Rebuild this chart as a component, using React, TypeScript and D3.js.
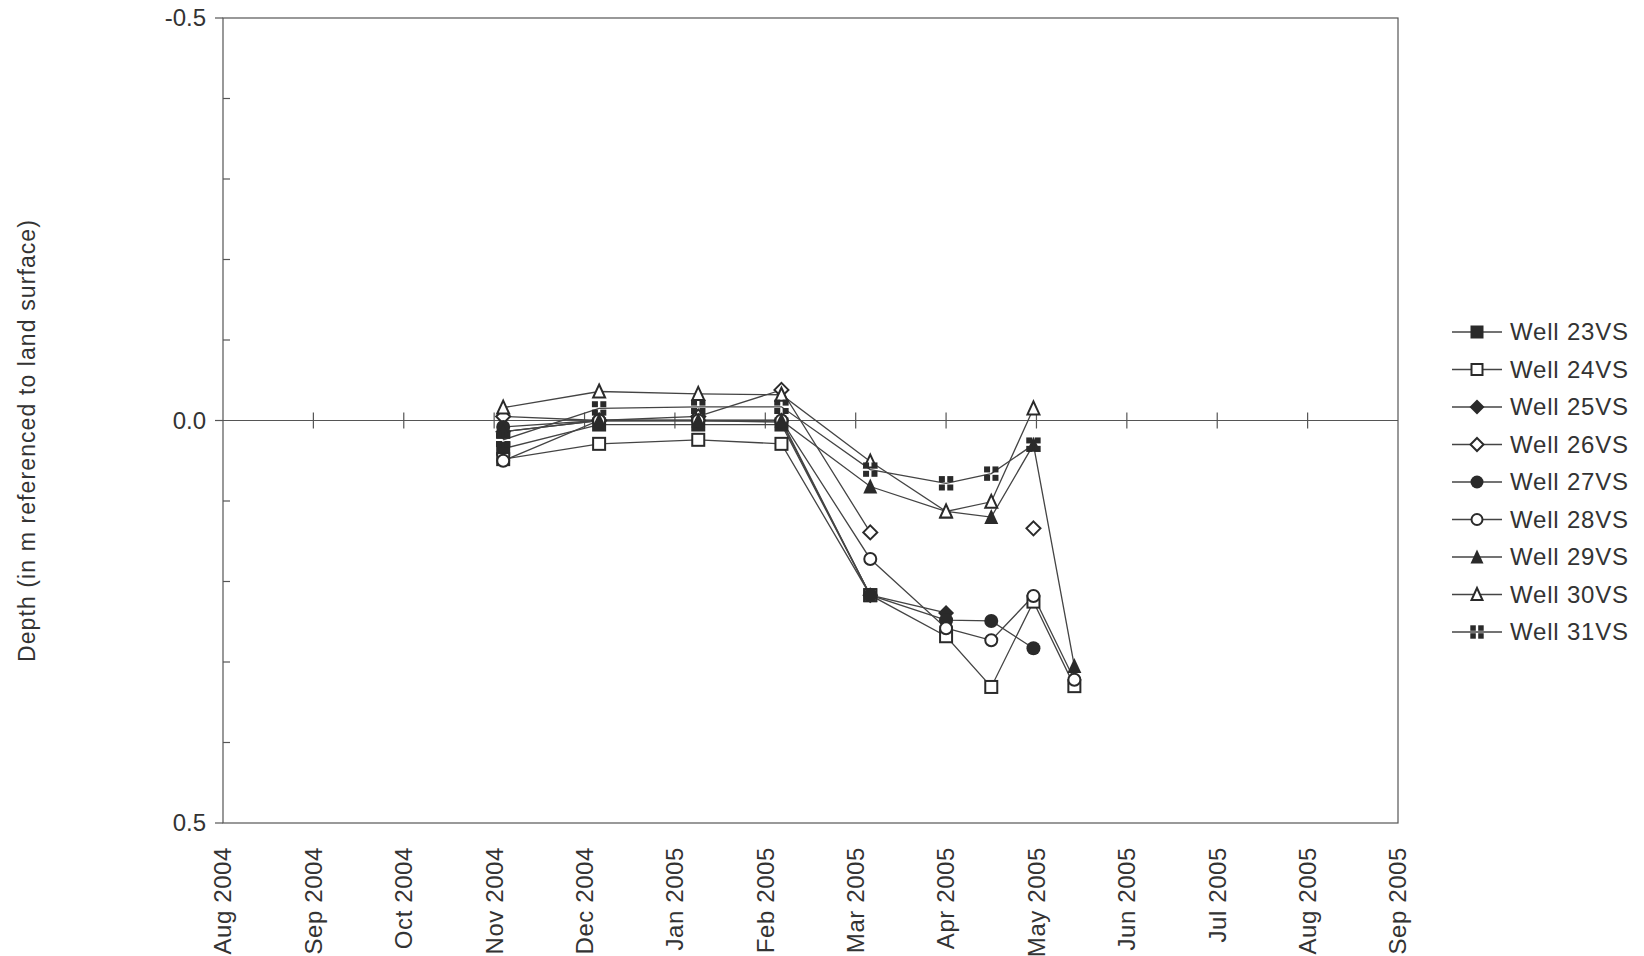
import React from "react";
import * as d3 from "d3";

// ---- Data ----
const monthLabels = [
  "Aug 2004", "Sep 2004", "Oct 2004", "Nov 2004", "Dec 2004", "Jan 2005", "Feb 2005",
  "Mar 2005", "Apr 2005", "May 2005", "Jun 2005", "Jul 2005", "Aug 2005", "Sep 2005",
];
const yTickLabels = [-0.5, 0.0, 0.5];
const yMinorTicks = [-0.4, -0.3, -0.2, -0.1, 0.1, 0.2, 0.3, 0.4];

const sampleDates = [
  "2004-11-04", "2004-12-06", "2005-01-09", "2005-02-06", "2005-03-06",
  "2005-04-01", "2005-04-16", "2005-04-30", "2005-05-14",
];

const well23 = [0.035, 0.005, 0.005, 0.005, 0.217, null, null, null, null];
const well24 = [0.048, 0.029, 0.024, 0.029, 0.217, 0.268, 0.331, 0.225, 0.33];
const well25 = [0.014, 0.0, 0.0, 0.0, 0.217, 0.239, null, null, null];
const well26 = [-0.005, 0.0, -0.005, -0.038, 0.139, null, null, 0.134, null];
const well27 = [0.008, 0.0, 0.0, 0.002, 0.217, 0.248, 0.249, 0.283, null];
const well28 = [0.05, 0.0, 0.0, 0.0, 0.172, 0.258, 0.273, 0.218, 0.322];
const well29 = [0.014, 0.0, 0.0, 0.0, 0.082, 0.113, 0.12, 0.03, 0.305];
const well30 = [-0.016, -0.036, -0.033, -0.032, 0.051, 0.113, 0.101, -0.015, null];
const well31 = [0.024, -0.015, -0.017, -0.017, 0.061, 0.078, 0.066, 0.03, null];

const seriesNames = [
  "Well 23VS", "Well 24VS", "Well 25VS", "Well 26VS", "Well 27VS",
  "Well 28VS", "Well 29VS", "Well 30VS", "Well 31VS",
];
const seriesValues = [well23, well24, well25, well26, well27, well28, well29, well30, well31];
const seriesMarkers = [
  "squareFilled", "squareOpen", "diamondFilled", "diamondOpen", "circleFilled",
  "circleOpen", "triangleFilled", "triangleOpen", "crossSquares",
];

// ---- Layout ----
const W = 1644;
const H = 956;
const L = 223, R = 1398, T = 18, B = 823;
const INK = "#2a2a2a";
const AXIS = "#555";
const LINE = "#444";
const FONT = "Liberation Sans, Arial, sans-serif";

function monthIndex(s: string): number {
  const [y, m, d] = s.split("-").map(Number);
  const dim = new Date(y, m, 0).getDate();
  return (y - 2004) * 12 + (m - 8) + (d - 1) / dim;
}

const x = d3.scaleLinear().domain([0, 13]).range([L, R]);
const y = d3.scaleLinear().domain([-0.5, 0.5]).range([T, B]);

function fmtY(v: number): string {
  return (v < 0 ? "-" : "") + Math.abs(v).toFixed(1);
}

function Marker({ kind, cx, cy, s }: { kind: string; cx: number; cy: number; s: number }) {
  const h = s / 2;
  const sw = 2;
  switch (kind) {
    case "squareFilled":
      return <rect x={cx - h} y={cy - h} width={s} height={s} fill={INK} />;
    case "squareOpen":
      return <rect x={cx - h + 1} y={cy - h + 1} width={s - 2} height={s - 2} fill="#fff" stroke={INK} strokeWidth={sw} />;
    case "diamondFilled":
      return <path d={`M${cx},${cy - h - 1}L${cx + h + 1},${cy}L${cx},${cy + h + 1}L${cx - h - 1},${cy}Z`} fill={INK} />;
    case "diamondOpen":
      return <path d={`M${cx},${cy - h}L${cx + h},${cy}L${cx},${cy + h}L${cx - h},${cy}Z`} fill="#fff" stroke={INK} strokeWidth={sw} />;
    case "circleFilled":
      return <circle cx={cx} cy={cy} r={h} fill={INK} />;
    case "circleOpen":
      return <circle cx={cx} cy={cy} r={h - 1} fill="#fff" stroke={INK} strokeWidth={sw} />;
    case "triangleFilled":
      return <path d={`M${cx},${cy - h - 1}L${cx + h},${cy + h}L${cx - h},${cy + h}Z`} fill={INK} />;
    case "triangleOpen":
      return <path d={`M${cx},${cy - h}L${cx + h - 1},${cy + h - 1}L${cx - h + 1},${cy + h - 1}Z`} fill="#fff" stroke={INK} strokeWidth={sw} />;
    case "crossSquares": {
      const q = h - 1;
      const g = 1.2;
      return (
        <g fill={INK}>
          <rect x={cx - q - g} y={cy - q - g} width={q} height={q} />
          <rect x={cx + g} y={cy - q - g} width={q} height={q} />
          <rect x={cx - q - g} y={cy + g} width={q} height={q} />
          <rect x={cx + g} y={cy + g} width={q} height={q} />
        </g>
      );
    }
    default:
      return null;
  }
}

export default function App() {
  const xs = sampleDates.map(monthIndex);
  const lineGen = d3
    .line<[number, number | null]>()
    .defined((d) => d[1] !== null)
    .x((d) => x(d[0]))
    .y((d) => y(d[1] as number));

  const legendX = 1452;
  const legendY0 = 332;
  const legendStep = 37.5;

  return (
    <svg
      width={W}
      height={H}
      style={{ position: "absolute", left: 0, top: 0, background: "#fff" }}
      fontFamily={FONT}
    >
      {/* plot frame */}
      <rect x={L} y={T} width={R - L} height={B - T} fill="none" stroke={AXIS} strokeWidth={1.2} />

      {/* y axis major ticks (outside) */}
      {yTickLabels.map((v) => (
        <g key={"yt" + v}>
          <line x1={L - 8} x2={L} y1={y(v)} y2={y(v)} stroke={AXIS} strokeWidth={1.2} />
          <text x={206} y={y(v)} dy="0.35em" textAnchor="end" fontSize={24} fill="#333">
            {fmtY(v)}
          </text>
        </g>
      ))}
      {/* y axis minor ticks (inside) */}
      {yMinorTicks.map((v) => (
        <line key={"ym" + v} x1={L} x2={L + 7} y1={y(v)} y2={y(v)} stroke={AXIS} strokeWidth={1.2} />
      ))}

      {/* x axis along zero */}
      <line x1={L} x2={R} y1={y(0)} y2={y(0)} stroke={AXIS} strokeWidth={1.2} />
      {monthLabels.map((m, i) =>
        i > 0 && i < monthLabels.length - 1 ? (
          <line key={"xt" + i} x1={x(i)} x2={x(i)} y1={y(0) - 8} y2={y(0) + 8} stroke={AXIS} strokeWidth={1.2} />
        ) : null
      )}
      {monthLabels.map((m, i) => (
        <text
          key={"xl" + i}
          transform={`translate(${x(i)},847) rotate(-90)`}
          dy="0.35em"
          textAnchor="end"
          fontSize={24}
          letterSpacing={0.6}
          fill="#333"
        >
          {m}
        </text>
      ))}

      {/* y title */}
      <text
        transform={`translate(27,${(T + B) / 2 + 20}) rotate(-90)`}
        dy="0.35em"
        textAnchor="middle"
        fontSize={23}
        letterSpacing={1.1}
        fill="#333"
      >
        Depth (in m referenced to land surface)
      </text>

      {/* series lines */}
      {seriesValues.map((vals, si) => (
        <path
          key={"l" + si}
          d={lineGen(xs.map((xv, i) => [xv, vals[i]]) as [number, number | null][]) || ""}
          fill="none"
          stroke={LINE}
          strokeWidth={1.3}
        />
      ))}

      {/* series markers */}
      {seriesValues.map((vals, si) => (
        <g key={"m" + si}>
          {vals.map((v, i) =>
            v === null ? null : (
              <Marker key={i} kind={seriesMarkers[si]} cx={x(xs[i])} cy={y(v)} s={14} />
            )
          )}
        </g>
      ))}

      {/* legend */}
      {seriesNames.map((name, i) => {
        const cy = legendY0 + i * legendStep;
        return (
          <g key={"lg" + i}>
            <line x1={legendX} x2={legendX + 50} y1={cy} y2={cy} stroke={LINE} strokeWidth={1.3} />
            <Marker kind={seriesMarkers[i]} cx={legendX + 25} cy={cy} s={13} />
            <text x={legendX + 58} y={cy} dy="0.35em" fontSize={24} letterSpacing={0.8} fill="#333">
              {name}
            </text>
          </g>
        );
      })}
    </svg>
  );
}
